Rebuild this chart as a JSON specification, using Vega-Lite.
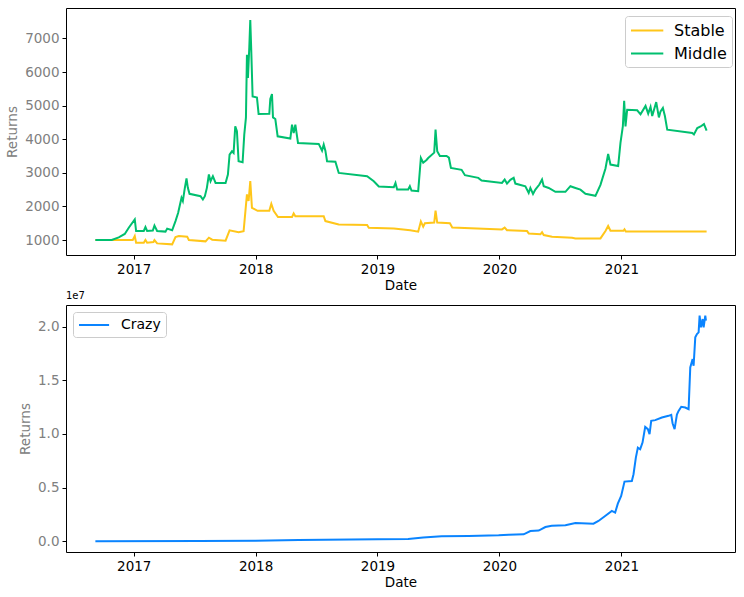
{
  "$schema": "https://vega.github.io/schema/vega-lite/v6.json",
  "padding": {"left": 5, "top": 7, "right": 7, "bottom": 5},
  "spacing": 50,
  "bounds": "flush",
  "config": {
    "font": "DejaVu Sans",
    "background": "white",
    "view": {"stroke": "#000000", "strokeWidth": 1},
    "axis": {"domain": false, "grid": false, "tickColor": "#000000", "tickSize": 4, "labelFontSize": 13.5, "titleFontSize": 13.5, "titleFontWeight": "normal", "labelFont": "DejaVu Sans", "titleFont": "DejaVu Sans", "labelPadding": 3},
    "axisX": {"labelColor": "#000000", "titleColor": "#000000", "titlePadding": 3},
    "axisY": {"labelColor": "#808080", "titleColor": "#808080", "titlePadding": 5, "format": "d"},
    "legend": {"title": null, "orient": "none", "symbolStrokeWidth": 2, "padding": 5, "fillColor": "white", "strokeColor": "#cccccc", "cornerRadius": 3, "labelColor": "#000000", "labelFont": "DejaVu Sans"}
  },
  "datasets": {
    "top": [
      {"date": "2016-09-08", "series": "Stable", "value": 1000},
      {"date": "2016-12-29", "series": "Stable", "value": 1000},
      {"date": "2017-01-04", "series": "Stable", "value": 1119},
      {"date": "2017-01-08", "series": "Stable", "value": 920},
      {"date": "2017-01-31", "series": "Stable", "value": 920},
      {"date": "2017-02-05", "series": "Stable", "value": 1000},
      {"date": "2017-02-10", "series": "Stable", "value": 920},
      {"date": "2017-03-01", "series": "Stable", "value": 940},
      {"date": "2017-03-04", "series": "Stable", "value": 1000},
      {"date": "2017-03-12", "series": "Stable", "value": 900},
      {"date": "2017-04-26", "series": "Stable", "value": 871},
      {"date": "2017-05-06", "series": "Stable", "value": 1089},
      {"date": "2017-05-16", "series": "Stable", "value": 1119},
      {"date": "2017-06-10", "series": "Stable", "value": 1100},
      {"date": "2017-06-15", "series": "Stable", "value": 1000},
      {"date": "2017-08-04", "series": "Stable", "value": 960},
      {"date": "2017-08-14", "series": "Stable", "value": 1069},
      {"date": "2017-08-24", "series": "Stable", "value": 1010},
      {"date": "2017-10-03", "series": "Stable", "value": 980},
      {"date": "2017-10-15", "series": "Stable", "value": 1288},
      {"date": "2017-11-11", "series": "Stable", "value": 1230},
      {"date": "2017-11-26", "series": "Stable", "value": 1260},
      {"date": "2017-12-06", "series": "Stable", "value": 2356},
      {"date": "2017-12-11", "series": "Stable", "value": 2160},
      {"date": "2017-12-16", "series": "Stable", "value": 2751},
      {"date": "2017-12-21", "series": "Stable", "value": 1959},
      {"date": "2018-01-07", "series": "Stable", "value": 1870},
      {"date": "2018-02-11", "series": "Stable", "value": 1870},
      {"date": "2018-02-17", "series": "Stable", "value": 2078},
      {"date": "2018-02-24", "series": "Stable", "value": 1870},
      {"date": "2018-03-09", "series": "Stable", "value": 1682},
      {"date": "2018-04-20", "series": "Stable", "value": 1682},
      {"date": "2018-04-25", "series": "Stable", "value": 1790},
      {"date": "2018-04-30", "series": "Stable", "value": 1710},
      {"date": "2018-07-24", "series": "Stable", "value": 1710},
      {"date": "2018-07-29", "series": "Stable", "value": 1564},
      {"date": "2018-09-07", "series": "Stable", "value": 1465},
      {"date": "2018-12-01", "series": "Stable", "value": 1445},
      {"date": "2018-12-06", "series": "Stable", "value": 1366},
      {"date": "2019-02-19", "series": "Stable", "value": 1340},
      {"date": "2019-04-09", "series": "Stable", "value": 1290},
      {"date": "2019-05-03", "series": "Stable", "value": 1247},
      {"date": "2019-05-11", "series": "Stable", "value": 1554},
      {"date": "2019-05-18", "series": "Stable", "value": 1400},
      {"date": "2019-05-23", "series": "Stable", "value": 1500},
      {"date": "2019-06-20", "series": "Stable", "value": 1520},
      {"date": "2019-06-24", "series": "Stable", "value": 1872},
      {"date": "2019-06-29", "series": "Stable", "value": 1520},
      {"date": "2019-08-06", "series": "Stable", "value": 1500},
      {"date": "2019-08-13", "series": "Stable", "value": 1375},
      {"date": "2020-01-09", "series": "Stable", "value": 1316},
      {"date": "2020-01-17", "series": "Stable", "value": 1370},
      {"date": "2020-01-24", "series": "Stable", "value": 1290},
      {"date": "2020-03-24", "series": "Stable", "value": 1270},
      {"date": "2020-03-29", "series": "Stable", "value": 1196},
      {"date": "2020-05-03", "series": "Stable", "value": 1170},
      {"date": "2020-05-08", "series": "Stable", "value": 1230},
      {"date": "2020-05-13", "series": "Stable", "value": 1149},
      {"date": "2020-06-07", "series": "Stable", "value": 1098},
      {"date": "2020-08-06", "series": "Stable", "value": 1070},
      {"date": "2020-08-16", "series": "Stable", "value": 1048},
      {"date": "2020-10-30", "series": "Stable", "value": 1048},
      {"date": "2020-11-14", "series": "Stable", "value": 1270},
      {"date": "2020-11-22", "series": "Stable", "value": 1417},
      {"date": "2020-11-29", "series": "Stable", "value": 1277},
      {"date": "2021-01-07", "series": "Stable", "value": 1277},
      {"date": "2021-01-10", "series": "Stable", "value": 1320},
      {"date": "2021-01-14", "series": "Stable", "value": 1256},
      {"date": "2021-09-13", "series": "Stable", "value": 1256},
      {"date": "2016-09-08", "series": "Middle", "value": 1000},
      {"date": "2016-10-27", "series": "Middle", "value": 1000},
      {"date": "2016-11-17", "series": "Middle", "value": 1080},
      {"date": "2016-12-05", "series": "Middle", "value": 1180},
      {"date": "2016-12-17", "series": "Middle", "value": 1365},
      {"date": "2017-01-04", "series": "Middle", "value": 1614},
      {"date": "2017-01-08", "series": "Middle", "value": 1267},
      {"date": "2017-01-31", "series": "Middle", "value": 1270},
      {"date": "2017-02-05", "series": "Middle", "value": 1386},
      {"date": "2017-02-10", "series": "Middle", "value": 1270},
      {"date": "2017-02-27", "series": "Middle", "value": 1280},
      {"date": "2017-03-04", "series": "Middle", "value": 1430},
      {"date": "2017-03-12", "series": "Middle", "value": 1270},
      {"date": "2017-04-06", "series": "Middle", "value": 1250},
      {"date": "2017-04-11", "series": "Middle", "value": 1340},
      {"date": "2017-04-26", "series": "Middle", "value": 1290},
      {"date": "2017-05-06", "series": "Middle", "value": 1564},
      {"date": "2017-05-14", "series": "Middle", "value": 1810},
      {"date": "2017-05-24", "series": "Middle", "value": 2255},
      {"date": "2017-05-28", "series": "Middle", "value": 2160},
      {"date": "2017-06-03", "series": "Middle", "value": 2552},
      {"date": "2017-06-08", "series": "Middle", "value": 2831},
      {"date": "2017-06-12", "series": "Middle", "value": 2552},
      {"date": "2017-06-17", "series": "Middle", "value": 2374},
      {"date": "2017-07-20", "series": "Middle", "value": 2305},
      {"date": "2017-07-27", "series": "Middle", "value": 2206},
      {"date": "2017-08-02", "series": "Middle", "value": 2305},
      {"date": "2017-08-08", "series": "Middle", "value": 2552},
      {"date": "2017-08-14", "series": "Middle", "value": 2950},
      {"date": "2017-08-19", "series": "Middle", "value": 2750},
      {"date": "2017-08-26", "series": "Middle", "value": 2900},
      {"date": "2017-09-03", "series": "Middle", "value": 2700},
      {"date": "2017-10-03", "series": "Middle", "value": 2700},
      {"date": "2017-10-10", "series": "Middle", "value": 2950},
      {"date": "2017-10-15", "series": "Middle", "value": 3543},
      {"date": "2017-10-22", "series": "Middle", "value": 3640},
      {"date": "2017-10-27", "series": "Middle", "value": 3590},
      {"date": "2017-11-01", "series": "Middle", "value": 4383},
      {"date": "2017-11-06", "series": "Middle", "value": 4240},
      {"date": "2017-11-11", "series": "Middle", "value": 3344},
      {"date": "2017-11-23", "series": "Middle", "value": 3314},
      {"date": "2017-11-28", "series": "Middle", "value": 4136},
      {"date": "2017-12-03", "series": "Middle", "value": 4640},
      {"date": "2017-12-06", "series": "Middle", "value": 6510},
      {"date": "2017-12-09", "series": "Middle", "value": 5820},
      {"date": "2017-12-13", "series": "Middle", "value": 6720},
      {"date": "2017-12-16", "series": "Middle", "value": 7549},
      {"date": "2017-12-19", "series": "Middle", "value": 6625},
      {"date": "2017-12-23", "series": "Middle", "value": 5273},
      {"date": "2018-01-05", "series": "Middle", "value": 5240},
      {"date": "2018-01-10", "series": "Middle", "value": 4748},
      {"date": "2018-02-11", "series": "Middle", "value": 4760},
      {"date": "2018-02-14", "series": "Middle", "value": 5200},
      {"date": "2018-02-19", "series": "Middle", "value": 5341},
      {"date": "2018-02-22", "series": "Middle", "value": 4650},
      {"date": "2018-03-01", "series": "Middle", "value": 4600},
      {"date": "2018-03-08", "series": "Middle", "value": 4086},
      {"date": "2018-04-15", "series": "Middle", "value": 4020},
      {"date": "2018-04-20", "series": "Middle", "value": 4433},
      {"date": "2018-04-25", "series": "Middle", "value": 4180},
      {"date": "2018-04-30", "series": "Middle", "value": 4433},
      {"date": "2018-05-08", "series": "Middle", "value": 3887},
      {"date": "2018-07-09", "series": "Middle", "value": 3860},
      {"date": "2018-07-19", "series": "Middle", "value": 3660},
      {"date": "2018-07-24", "series": "Middle", "value": 3840},
      {"date": "2018-07-29", "series": "Middle", "value": 3660},
      {"date": "2018-08-03", "series": "Middle", "value": 3344},
      {"date": "2018-08-28", "series": "Middle", "value": 3330},
      {"date": "2018-09-07", "series": "Middle", "value": 2997},
      {"date": "2018-12-01", "series": "Middle", "value": 2900},
      {"date": "2018-12-21", "series": "Middle", "value": 2750},
      {"date": "2019-01-05", "series": "Middle", "value": 2593},
      {"date": "2019-02-19", "series": "Middle", "value": 2573},
      {"date": "2019-02-24", "series": "Middle", "value": 2700},
      {"date": "2019-03-01", "series": "Middle", "value": 2504},
      {"date": "2019-04-03", "series": "Middle", "value": 2504},
      {"date": "2019-04-08", "series": "Middle", "value": 2600},
      {"date": "2019-04-13", "series": "Middle", "value": 2470},
      {"date": "2019-05-03", "series": "Middle", "value": 2454},
      {"date": "2019-05-11", "series": "Middle", "value": 3442},
      {"date": "2019-05-18", "series": "Middle", "value": 3300},
      {"date": "2019-05-28", "series": "Middle", "value": 3382},
      {"date": "2019-06-02", "series": "Middle", "value": 3440},
      {"date": "2019-06-20", "series": "Middle", "value": 3600},
      {"date": "2019-06-24", "series": "Middle", "value": 4285},
      {"date": "2019-06-29", "series": "Middle", "value": 3641},
      {"date": "2019-07-07", "series": "Middle", "value": 3500},
      {"date": "2019-07-27", "series": "Middle", "value": 3500},
      {"date": "2019-08-03", "series": "Middle", "value": 3450},
      {"date": "2019-08-09", "series": "Middle", "value": 3145},
      {"date": "2019-09-10", "series": "Middle", "value": 3090},
      {"date": "2019-09-20", "series": "Middle", "value": 2929},
      {"date": "2019-10-30", "series": "Middle", "value": 2850},
      {"date": "2019-11-09", "series": "Middle", "value": 2772},
      {"date": "2020-01-09", "series": "Middle", "value": 2700},
      {"date": "2020-01-17", "series": "Middle", "value": 2800},
      {"date": "2020-01-24", "series": "Middle", "value": 2680},
      {"date": "2020-02-03", "series": "Middle", "value": 2790},
      {"date": "2020-02-13", "series": "Middle", "value": 2850},
      {"date": "2020-02-18", "series": "Middle", "value": 2680},
      {"date": "2020-03-19", "series": "Middle", "value": 2600},
      {"date": "2020-03-29", "series": "Middle", "value": 2404},
      {"date": "2020-04-03", "series": "Middle", "value": 2550},
      {"date": "2020-04-11", "series": "Middle", "value": 2370},
      {"date": "2020-04-18", "series": "Middle", "value": 2500},
      {"date": "2020-04-30", "series": "Middle", "value": 2650},
      {"date": "2020-05-08", "series": "Middle", "value": 2801},
      {"date": "2020-05-13", "series": "Middle", "value": 2600},
      {"date": "2020-05-28", "series": "Middle", "value": 2550},
      {"date": "2020-06-17", "series": "Middle", "value": 2433},
      {"date": "2020-07-17", "series": "Middle", "value": 2433},
      {"date": "2020-08-01", "series": "Middle", "value": 2602},
      {"date": "2020-08-16", "series": "Middle", "value": 2550},
      {"date": "2020-08-31", "series": "Middle", "value": 2500},
      {"date": "2020-09-15", "series": "Middle", "value": 2374},
      {"date": "2020-10-15", "series": "Middle", "value": 2315},
      {"date": "2020-10-30", "series": "Middle", "value": 2640},
      {"date": "2020-11-14", "series": "Middle", "value": 3130},
      {"date": "2020-11-22", "series": "Middle", "value": 3561},
      {"date": "2020-11-29", "series": "Middle", "value": 3245},
      {"date": "2020-12-22", "series": "Middle", "value": 3200},
      {"date": "2020-12-29", "series": "Middle", "value": 3900},
      {"date": "2021-01-05", "series": "Middle", "value": 4380},
      {"date": "2021-01-09", "series": "Middle", "value": 5145},
      {"date": "2021-01-13", "series": "Middle", "value": 4380},
      {"date": "2021-01-18", "series": "Middle", "value": 4878},
      {"date": "2021-02-17", "series": "Middle", "value": 4860},
      {"date": "2021-02-27", "series": "Middle", "value": 4740},
      {"date": "2021-03-14", "series": "Middle", "value": 4990},
      {"date": "2021-03-22", "series": "Middle", "value": 4760},
      {"date": "2021-03-29", "series": "Middle", "value": 4960},
      {"date": "2021-04-03", "series": "Middle", "value": 4690},
      {"date": "2021-04-15", "series": "Middle", "value": 5104},
      {"date": "2021-04-23", "series": "Middle", "value": 4650},
      {"date": "2021-04-28", "series": "Middle", "value": 4830},
      {"date": "2021-05-05", "series": "Middle", "value": 4930},
      {"date": "2021-05-11", "series": "Middle", "value": 4690},
      {"date": "2021-05-18", "series": "Middle", "value": 4285},
      {"date": "2021-08-01", "series": "Middle", "value": 4185},
      {"date": "2021-08-06", "series": "Middle", "value": 4140},
      {"date": "2021-08-16", "series": "Middle", "value": 4330},
      {"date": "2021-08-26", "series": "Middle", "value": 4380},
      {"date": "2021-09-05", "series": "Middle", "value": 4450},
      {"date": "2021-09-13", "series": "Middle", "value": 4255}
    ],
    "crazy": [
      {"date": "2016-09-08", "series": "Crazy", "value": 1000},
      {"date": "2017-07-15", "series": "Crazy", "value": 30000},
      {"date": "2018-01-01", "series": "Crazy", "value": 60000},
      {"date": "2018-05-10", "series": "Crazy", "value": 120000},
      {"date": "2019-01-01", "series": "Crazy", "value": 200000},
      {"date": "2019-04-03", "series": "Crazy", "value": 220000},
      {"date": "2019-05-18", "series": "Crazy", "value": 350000},
      {"date": "2019-07-12", "series": "Crazy", "value": 480000},
      {"date": "2019-10-01", "series": "Crazy", "value": 500000},
      {"date": "2019-12-30", "series": "Crazy", "value": 560000},
      {"date": "2020-01-29", "series": "Crazy", "value": 620000},
      {"date": "2020-03-14", "series": "Crazy", "value": 650000},
      {"date": "2020-04-03", "series": "Crazy", "value": 960000},
      {"date": "2020-04-28", "series": "Crazy", "value": 1000000},
      {"date": "2020-05-18", "series": "Crazy", "value": 1330000},
      {"date": "2020-06-06", "series": "Crazy", "value": 1450000},
      {"date": "2020-07-17", "series": "Crazy", "value": 1490000},
      {"date": "2020-08-16", "series": "Crazy", "value": 1710000},
      {"date": "2020-10-09", "series": "Crazy", "value": 1640000},
      {"date": "2020-10-24", "series": "Crazy", "value": 1890000},
      {"date": "2020-11-13", "series": "Crazy", "value": 2360000},
      {"date": "2020-12-03", "series": "Crazy", "value": 2830000},
      {"date": "2020-12-13", "series": "Crazy", "value": 2670000},
      {"date": "2020-12-21", "series": "Crazy", "value": 3510000},
      {"date": "2020-12-31", "series": "Crazy", "value": 4230000},
      {"date": "2021-01-10", "series": "Crazy", "value": 5560000},
      {"date": "2021-02-01", "series": "Crazy", "value": 5620000},
      {"date": "2021-02-06", "series": "Crazy", "value": 6250000},
      {"date": "2021-02-13", "series": "Crazy", "value": 7800000},
      {"date": "2021-02-19", "series": "Crazy", "value": 8730000},
      {"date": "2021-02-26", "series": "Crazy", "value": 8580000},
      {"date": "2021-03-05", "series": "Crazy", "value": 9200000},
      {"date": "2021-03-13", "series": "Crazy", "value": 10660000},
      {"date": "2021-03-21", "series": "Crazy", "value": 10450000},
      {"date": "2021-03-26", "series": "Crazy", "value": 9980000},
      {"date": "2021-03-31", "series": "Crazy", "value": 11220000},
      {"date": "2021-04-12", "series": "Crazy", "value": 11290000},
      {"date": "2021-05-02", "series": "Crazy", "value": 11530000},
      {"date": "2021-05-22", "series": "Crazy", "value": 11690000},
      {"date": "2021-05-30", "series": "Crazy", "value": 11780000},
      {"date": "2021-06-03", "series": "Crazy", "value": 11000000},
      {"date": "2021-06-09", "series": "Crazy", "value": 10450000},
      {"date": "2021-06-16", "series": "Crazy", "value": 11800000},
      {"date": "2021-06-21", "series": "Crazy", "value": 12150000},
      {"date": "2021-06-29", "series": "Crazy", "value": 12530000},
      {"date": "2021-07-11", "series": "Crazy", "value": 12460000},
      {"date": "2021-07-21", "series": "Crazy", "value": 12310000},
      {"date": "2021-07-26", "series": "Crazy", "value": 16190000},
      {"date": "2021-08-02", "series": "Crazy", "value": 16980000},
      {"date": "2021-08-05", "series": "Crazy", "value": 16350000},
      {"date": "2021-08-10", "series": "Crazy", "value": 19000000},
      {"date": "2021-08-15", "series": "Crazy", "value": 19310000},
      {"date": "2021-08-20", "series": "Crazy", "value": 19460000},
      {"date": "2021-08-23", "series": "Crazy", "value": 21020000},
      {"date": "2021-08-27", "series": "Crazy", "value": 19930000},
      {"date": "2021-09-01", "series": "Crazy", "value": 20710000},
      {"date": "2021-09-04", "series": "Crazy", "value": 19930000},
      {"date": "2021-09-09", "series": "Crazy", "value": 21020000},
      {"date": "2021-09-11", "series": "Crazy", "value": 20550000}
    ]
  },
  "resolve": {"scale": {"color": "independent"}, "legend": {"color": "independent"}},
  "vconcat": [
    {
      "width": 669,
      "height": 247,
      "data": {"name": "top"},
      "mark": {"type": "line", "strokeWidth": 2},
      "encoding": {
        "x": {"field": "date", "type": "temporal",
          "scale": {"domain": [{"year": 2016, "month": 6, "date": 12}, {"year": 2021, "month": 12, "date": 7}]},
          "axis": {"title": "Date", "format": "%Y", "values": [{"year": 2017, "month": 1, "date": 1}, {"year": 2018, "month": 1, "date": 1}, {"year": 2019, "month": 1, "date": 1}, {"year": 2020, "month": 1, "date": 1}, {"year": 2021, "month": 1, "date": 1}]}},
        "y": {"field": "value", "type": "quantitative",
          "scale": {"domain": [554, 7905], "nice": false, "zero": false},
          "axis": {"title": "Returns", "values": [1000, 2000, 3000, 4000, 5000, 6000, 7000]}},
        "color": {"field": "series", "type": "nominal", "sort": ["Stable", "Middle"],
          "scale": {"domain": ["Stable", "Middle"], "range": ["#FFC61A", "#00BF6F"]},
          "legend": {"legendX": 559, "legendY": 8, "labelFontSize": 16, "symbolType": "M-1,0H2.8", "symbolSize": 289, "labelOffset": 25, "rowPadding": 5}}
      }
    },
    {
      "width": 669,
      "height": 247,
      "title": {"text": "1e7", "anchor": "start", "frame": "group", "fontSize": 10, "fontWeight": "normal", "color": "#000000", "offset": 4, "font": "DejaVu Sans"},
      "data": {"name": "crazy"},
      "mark": {"type": "line", "strokeWidth": 2},
      "encoding": {
        "x": {"field": "date", "type": "temporal",
          "scale": {"domain": [{"year": 2016, "month": 6, "date": 12}, {"year": 2021, "month": 12, "date": 7}]},
          "axis": {"title": "Date", "format": "%Y", "values": [{"year": 2017, "month": 1, "date": 1}, {"year": 2018, "month": 1, "date": 1}, {"year": 2019, "month": 1, "date": 1}, {"year": 2020, "month": 1, "date": 1}, {"year": 2021, "month": 1, "date": 1}]}},
        "y": {"field": "value", "type": "quantitative",
          "scale": {"domain": [-998000, 22015000], "nice": false, "zero": false},
          "axis": {"title": "Returns", "values": [0, 5000000, 10000000, 15000000, 20000000], "labelExpr": "format(datum.value / 10000000, '.1f')"}},
        "color": {"field": "series", "type": "nominal",
          "scale": {"domain": ["Crazy"], "range": ["#0A84FF"]},
          "legend": {"legendX": 7, "legendY": 7, "labelFontSize": 14, "symbolType": "M-1,0H3.3", "symbolSize": 196, "labelOffset": 27}}
      }
    }
  ]
}
